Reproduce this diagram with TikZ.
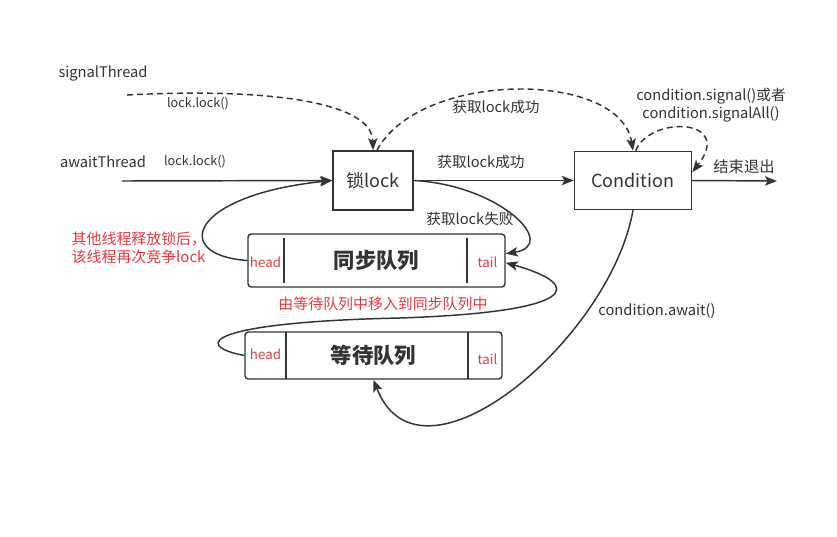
\documentclass[tikz,border=0pt]{standalone}
\usepackage{fontspec}
\setmainfont{Noto Sans CJK SC}
\usetikzlibrary{arrows.meta,positioning}
\definecolor{linegray}{HTML}{333333}
\definecolor{notered}{HTML}{E8383D}

\begin{document}
\begin{tikzpicture}[x=0.75pt,y=-0.75pt,node distance=195pt,on grid,color=linegray,
    >={Stealth[length=9pt,width=7pt,inset=2pt]},
    box/.style={draw,line width=1.1pt,inner sep=0pt,font=\fontsize{13.5}{15}\selectfont},
    queue/.style={draw,line width=1.1pt,rounded corners=2.5pt,inner sep=0pt,minimum width=192.75pt,font=\bfseries\fontsize{16}{18}\selectfont},
    lbl/.style={font=\fontsize{11}{13.5}\selectfont},
    small/.style={font=\fontsize{9.5}{11}\selectfont},
    redlbl/.style={font=\fontsize{11.2}{13.5}\selectfont,text=notered},
    tag/.style={font=\fontsize{10}{11}\selectfont,text=notered},
    flow/.style={->,line width=1.1pt},
    dflow/.style={flow,dash pattern=on 4.5pt off 3pt}]
   \useasboundingbox (0,0) rectangle (837,536);
   \node[box,minimum width=60pt,minimum height=44.25pt] (lock) at (373,180.5) {锁lock};
   \node[box,minimum width=87.75pt,minimum height=43.5pt] (cond) [right=of lock] {Condition};
   \node[queue,minimum height=39.75pt] (sync) at (376.5,260.5) {同步队列};
   \node[queue,minimum height=35.25pt] (wait) at (373.5,355.5) {等待队列};
   \node[tag] (synchead) at (265.5,262) {head};
   \node[tag] (synctail) at (487.5,262) {tail};
   \node[tag] (waithead) at (265.5,354) {head};
   \node[tag] (waittail) at (487.5,359) {tail};
   \draw[line width=1.1pt] (284,238) -- (284,283) (467,238) -- (467,283)
                           (286,332) -- (286,379) (468,332) -- (468,379);

   \node[lbl] (signame) at (103,73) {signalThread};
   \node[lbl] (awaitname) at (103,162) {awaitThread};
   \node[small] (siglock) at (198,104) {lock.lock()};
   \node[small] (awaitlock) at (195,162) {lock.lock()};
   \node[lbl] (okdash) at (496,107) {获取lock成功};
   \node[lbl] (ok) at (481,162) {获取lock成功};
   \node[lbl,align=center] (signal) at (711,105) {condition.signal()或者\\condition.signalAll()};
   \node[lbl,font=\fontsize{11.5}{13.5}\selectfont] (exit) at (744,167) {结束退出};
   \node[lbl] (fail) at (470,219) {获取lock失败};
   \node[redlbl,align=left,anchor=west] (retry) at (67,248) {其他线程释放锁后，\\该线程再次竞争lock};
   \node[redlbl] (move) at (383,304) {由等待队列中移入到同步队列中};
   \node[lbl] (await) at (657,311) {condition.await()};
   \coordinate (sigstart) at (127,95);
   \coordinate (awaitstart) at (122,181);
   \coordinate (exitend) at (777,181);

   \draw[dflow] (sigstart) .. controls (260,88) and (372,100) .. (lock.north);
   \draw[dflow] ([xshift=3pt]lock.north) .. controls (420,70) and (620,70) .. (cond.north);
   \draw[dflow] ([xshift=2pt]cond.north) .. controls (650,115) and (735,118) .. (cond.8);
   \draw[flow] (awaitstart) -- (lock.west);
   \draw[flow] (lock.east) -- (cond.west);
   \draw[flow] (cond.east) -- (exitend);
   \draw[flow] (lock.east) .. controls (500,185) and (560,245) .. (sync.3);
   \draw[flow] (sync.west) .. controls (170,255) and (190,195) .. (lock.west);
   \draw[flow] (wait.west) .. controls (190,345) and (210,322) .. (400,318)
                           .. controls (580,312) and (585,285) .. (sync.-1);
   \draw[flow] (cond.south) .. controls (610,340) and (420,500) .. (wait.south);
\end{tikzpicture}
\end{document}
